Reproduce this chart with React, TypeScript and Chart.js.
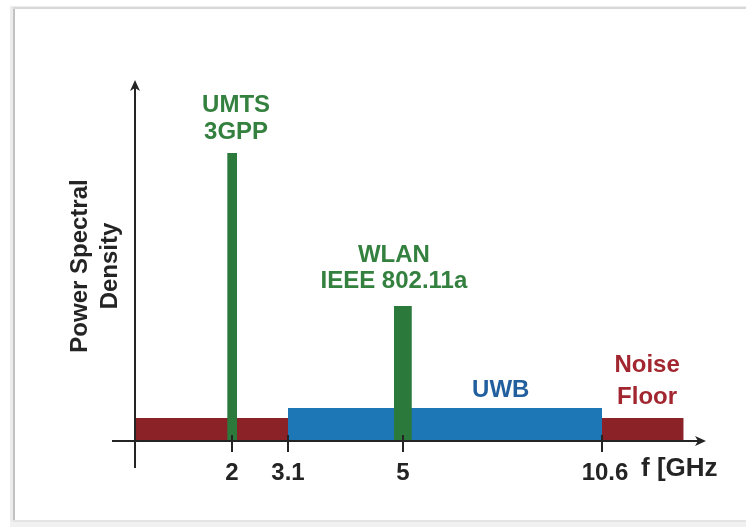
import React, { useEffect, useRef } from 'react';
import { Chart, registerables, LinearScale } from 'chart.js';

// ---------- data ----------
const BAND_NAMES = ['UMTS 3GPP', 'WLAN IEEE 802.11a', 'UWB', 'Noise Floor (low)', 'Noise Floor (high)'];
const BAND_START_GHZ = [1.9, 4.85, 3.1, 0, 10.6];
const BAND_END_GHZ = [2.1, 5.25, 10.6, 3.1, 12.9];
const BAND_PSD = [80, 37.5, 9.2, 6.4, 6.4];

const TICK_VALUES = [2, 3.1, 5, 10.6];
const TICK_LABELS = ['2', '3.1', '5', '10.6'];
const X_TITLE = 'f [GHz]';
const Y_TITLE = ['Power Spectral', 'Density'];

const LABEL_LINES = [['UMTS', '3GPP'], ['WLAN', 'IEEE 802.11a'], ['UWB'], ['Noise', 'Floor']];
const LABEL_X_GHZ = [2.08, 4.85, 7.75, 11.87];
const LABEL_Y_PSD = [83.9, 42.5, 12.2, 10.3];

// schematic (non-uniform) frequency axis: break values and their relative positions
const AXIS_KNOTS_GHZ = [-0.47, 0, 2, 3.1, 5, 10.6, 13.5];
const AXIS_KNOTS_FRAC = [0, 0.0388, 0.2024, 0.2968, 0.4907, 0.8263, 1];

// ---------- styles ----------
const GREEN = '#2b7a3c';
const BLUE = '#1d77b7';
const RED = '#8a2228';
const BAND_COLORS = [GREEN, GREEN, BLUE, RED, RED];
const BAND_ORDER = [0, 0, 1, 2, 2];
const LABEL_COLORS = ['#33803f', '#33803f', '#225f9e', '#a2262f'];
const LABEL_GAP = [27, 26, 27, 32];
const INK = '#242424';
const FAMILY = '"Liberation Sans", Arial, Helvetica, sans-serif';
const FONT = 'bold 24px ' + FAMILY;

class PiecewiseScale extends LinearScale {
  static id = 'piecewise';
  getPixelForValue(value: number) {
    const K = AXIS_KNOTS_GHZ, F = AXIS_KNOTS_FRAC;
    let i = 1;
    while (i < K.length - 1 && value > K[i]) i++;
    const t = (value - K[i - 1]) / (K[i] - K[i - 1]);
    const f = F[i - 1] + t * (F[i] - F[i - 1]);
    return this.left + f * (this.right - this.left);
  }
  getValueForPixel(pixel: number) {
    const K = AXIS_KNOTS_GHZ, F = AXIS_KNOTS_FRAC;
    const f = (pixel - this.left) / (this.right - this.left);
    let i = 1;
    while (i < F.length - 1 && f > F[i]) i++;
    const t = (f - F[i - 1]) / (F[i] - F[i - 1]);
    return K[i - 1] + t * (K[i] - K[i - 1]);
  }
}

Chart.register(...registerables, PiecewiseScale);

const overlay = {
  id: 'overlay',
  beforeDraw(chart: any) {
    const ctx = chart.ctx;
    const W = chart.width, H = chart.height;
    ctx.save();
    ctx.fillStyle = '#ffffff';
    ctx.fillRect(0, 0, W, H);
    // frame with soft shadow
    ctx.fillStyle = '#ececec';
    ctx.fillRect(10, 6, 3, 518);
    ctx.fillRect(10, 6, W - 10, 1);
    ctx.fillStyle = '#c2c2c2';
    ctx.fillRect(13, 8, 2, 513);
    ctx.fillStyle = '#d8d8d8';
    ctx.fillRect(13, 7, W - 13, 2);
    ctx.fillStyle = '#e4e4e4';
    ctx.fillRect(13, 520, W - 13, 2);
    ctx.fillStyle = '#f1f1f1';
    ctx.fillRect(10, 522, W - 10, 5);
    ctx.restore();
  },
  afterDatasetsDraw(chart: any) {
    const ctx = chart.ctx;
    const xs = chart.scales.x, ys = chart.scales.y;
    const area = chart.chartArea;
    const x0 = xs.getPixelForValue(0);
    const y0 = ys.getPixelForValue(0);
    const xEnd = xs.getPixelForValue(AXIS_KNOTS_GHZ[AXIS_KNOTS_GHZ.length - 1]);
    const yTop = ys.getPixelForValue(100);
    ctx.save();
    ctx.strokeStyle = INK;
    ctx.fillStyle = INK;
    ctx.lineWidth = 2;
    // x axis
    ctx.beginPath();
    ctx.moveTo(area.left, y0);
    ctx.lineTo(xEnd - 6, y0);
    ctx.stroke();
    ctx.beginPath();
    ctx.moveTo(xEnd + 1, y0);
    ctx.lineTo(xEnd - 10, y0 - 5);
    ctx.lineTo(xEnd - 7, y0);
    ctx.lineTo(xEnd - 10, y0 + 5);
    ctx.closePath();
    ctx.fill();
    // y axis
    ctx.beginPath();
    ctx.moveTo(x0, area.bottom);
    ctx.lineTo(x0, yTop + 6);
    ctx.stroke();
    ctx.beginPath();
    ctx.moveTo(x0, yTop - 1);
    ctx.lineTo(x0 - 5, yTop + 10);
    ctx.lineTo(x0, yTop + 7);
    ctx.lineTo(x0 + 5, yTop + 10);
    ctx.closePath();
    ctx.fill();
    // ticks
    ctx.lineWidth = 2;
    TICK_VALUES.forEach((v) => {
      const px = xs.getPixelForValue(v);
      ctx.beginPath();
      ctx.moveTo(px, y0 - 6);
      ctx.lineTo(px, y0 + 11);
      ctx.stroke();
    });
    ctx.font = FONT;
    ctx.textAlign = 'center';
    ctx.textBaseline = 'alphabetic';
    TICK_VALUES.forEach((v, i) => {
      const px = xs.getPixelForValue(v);
      ctx.fillText(TICK_LABELS[i], px + (i === 3 ? 3 : 0), y0 + 39);
    });
    // x title (clipped at the right like the original figure)
    ctx.save();
    ctx.beginPath();
    ctx.rect(0, 0, 717, chart.height);
    ctx.clip();
    ctx.font = 'bold 26px ' + FAMILY;
    ctx.textAlign = 'left';
    ctx.fillText(X_TITLE, xs.getPixelForValue(10.6) + 39, y0 + 35);
    ctx.restore();
    // y title
    ctx.save();
    ctx.translate(x0 - 55, 266);
    ctx.rotate(-Math.PI / 2);
    ctx.textAlign = 'center';
    ctx.textBaseline = 'middle';
    ctx.fillText(Y_TITLE[0], 0, 0);
    ctx.fillText(Y_TITLE[1], 0, 30);
    ctx.restore();
    // band labels
    ctx.textAlign = 'center';
    LABEL_LINES.forEach((lines, i) => {
      ctx.fillStyle = LABEL_COLORS[i];
      const px = xs.getPixelForValue(LABEL_X_GHZ[i]);
      const py = ys.getPixelForValue(LABEL_Y_PSD[i]);
      const n = lines.length;
      lines.forEach((t, j) => {
        ctx.fillText(t, px, py - (n - 1 - j) * LABEL_GAP[i]);
      });
    });
    ctx.restore();
  },
};

export default function App() {
  const ref = useRef<HTMLCanvasElement | null>(null);
  useEffect(() => {
    document.body.style.margin = '0';
    const canvas = ref.current;
    if (!canvas) return;
    const chart = new Chart(canvas, {
      type: 'line',
      data: {
        datasets: BAND_NAMES.map((name, i) => ({
          label: name,
          data: [
            { x: BAND_START_GHZ[i], y: BAND_PSD[i] },
            { x: BAND_END_GHZ[i], y: BAND_PSD[i] },
          ],
          borderColor: 'rgba(0,0,0,0)',
          borderWidth: 0,
          backgroundColor: BAND_COLORS[i],
          fill: 'origin',
          pointRadius: 0,
          tension: 0,
          order: BAND_ORDER[i],
        })),
      },
      options: {
        responsive: false,
        animation: false,
        events: [],
        layout: { padding: { left: 112, right: 41, top: 81, bottom: 59 } },
        plugins: {
          legend: { display: false },
          tooltip: { enabled: false },
        },
        scales: {
          x: { type: 'piecewise' as any, min: AXIS_KNOTS_GHZ[0], max: AXIS_KNOTS_GHZ[AXIS_KNOTS_GHZ.length - 1], display: false },
          y: { type: 'linear', min: -7.5, max: 100, display: false },
        },
      },
      plugins: [overlay],
    });
    return () => chart.destroy();
  }, []);
  return (
    <div style={{ width: 746, height: 527 }}>
      <canvas ref={ref} width={746} height={527} style={{ display: 'block' }} />
    </div>
  );
}
